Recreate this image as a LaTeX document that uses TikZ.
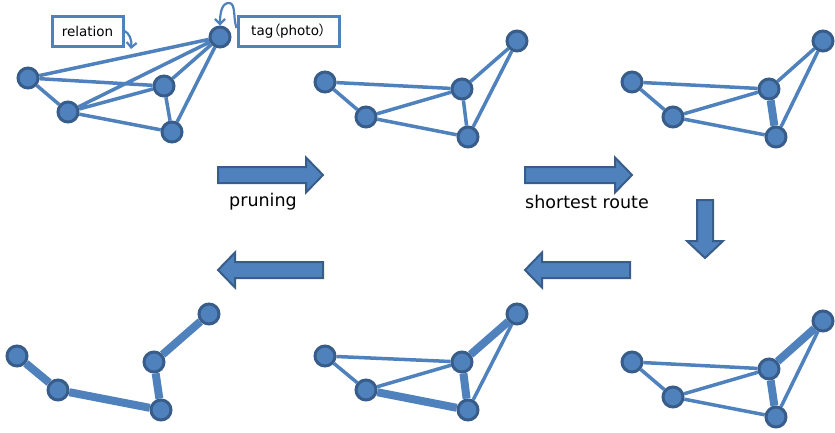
\documentclass[tikz,border=0pt]{standalone}
\usepackage{fontspec}
\setmainfont{DejaVu Sans}
\newfontfamily\jpfont[RawFeature=+palt]{Noto Sans CJK JP}
\usetikzlibrary{arrows.meta}
\definecolor{nodefill}{HTML}{4F81BD}
\definecolor{nodeline}{HTML}{385D8A}
\pgfdeclarelayer{edges}
\pgfsetlayers{edges,main}
\tikzset{
  gnode/.style={circle, fill=nodefill, draw=nodeline, line width=3pt,
    minimum size=20pt, inner sep=0pt},
  thinedge/.style={draw=nodefill, line width=3.5pt},
  thickedge/.style={draw=nodefill, line width=8pt},
  labelbox/.style={draw=nodefill, line width=3pt, fill=white, inner sep=0pt,
    minimum height=30pt, font=\fontsize{13.5}{15}\selectfont},
  bigarrow/.style={fill=nodefill, draw=nodeline, line width=2pt, line join=miter},
  callout/.style={draw=nodefill, line width=2.2pt, -{Straight Barb[length=5pt,width=10pt]}},
  caption/.style={font=\fontsize{17.5}{20}\selectfont, inner sep=0pt}
}
\begin{document}
\begin{tikzpicture}[x=1pt,y=-1pt]
\useasboundingbox (0,0) rectangle (835,432);

% ---------- graph 1: full tag graph ----------
\node[gnode] (p1) at (28,78) {};
\node[gnode] (q1) at (68,112) {};
\node[gnode] (r1) at (164,86) {};
\node[gnode] (s1) at (172,132) {};
\node[gnode] (t1) at (220,37) {};
\begin{pgfonlayer}{edges}
  \draw[thinedge] (p1) -- (t1) (p1) -- (r1) (p1) -- (q1) (q1) -- (t1)
    (q1) -- (r1) (q1) -- (s1) (r1) -- (t1) (r1) -- (s1) (s1) -- (t1);
\end{pgfonlayer}

% labels with callouts
\node[labelbox, minimum width=71pt] (rel) at (87.5,31) {relation};
\node[labelbox, minimum width=101pt] (tag) at (288.5,31) {tag{\jpfont （}photo{\jpfont ）}};
\coordinate (relTip) at (131,49);
\draw[callout] (rel.east) .. controls (129,33) and (132,39) .. (relTip);
\draw[callout] ([yshift=3pt]tag.west) .. controls (233,18) and (236,3) .. (229,3)
  .. controls (222,3) and (220,12) .. (t1.north);

% ---------- graph 2: pruned ----------
\node[gnode] (p2) at (325,82) {};
\node[gnode] (q2) at (366,117) {};
\node[gnode] (r2) at (462,89) {};
\node[gnode] (s2) at (468,137) {};
\node[gnode] (t2) at (517,41) {};
\begin{pgfonlayer}{edges}
  \draw[thinedge] (p2) -- (r2) (p2) -- (q2) (q2) -- (r2) (q2) -- (s2)
    (r2) -- (s2) (r2) -- (t2) (s2) -- (t2);
\end{pgfonlayer}

% ---------- graph 3 ----------
\node[gnode] (p3) at (632,82) {};
\node[gnode] (q3) at (673,117) {};
\node[gnode] (r3) at (769,89) {};
\node[gnode] (s3) at (776,137) {};
\node[gnode] (t3) at (823,41) {};
\begin{pgfonlayer}{edges}
  \draw[thinedge] (p3) -- (r3) (p3) -- (q3) (q3) -- (r3) (q3) -- (s3)
    (r3) -- (t3) (s3) -- (t3);
  \draw[thickedge] (r3) -- (s3);
\end{pgfonlayer}

% ---------- graph 4 ----------
\node[gnode] (p4) at (632,362) {};
\node[gnode] (q4) at (673,397) {};
\node[gnode] (r4) at (769,369) {};
\node[gnode] (s4) at (776,417) {};
\node[gnode] (t4) at (823,321) {};
\begin{pgfonlayer}{edges}
  \draw[thinedge] (p4) -- (r4) (p4) -- (q4) (q4) -- (r4) (q4) -- (s4)
    (s4) -- (t4);
  \draw[thickedge] (r4) -- (s4) (r4) -- (t4);
\end{pgfonlayer}

% ---------- graph 5 ----------
\node[gnode] (p5) at (325,356) {};
\node[gnode] (q5) at (366,390) {};
\node[gnode] (r5) at (462,362) {};
\node[gnode] (s5) at (468,410) {};
\node[gnode] (t5) at (517,314) {};
\begin{pgfonlayer}{edges}
  \draw[thinedge] (p5) -- (r5) (p5) -- (q5) (q5) -- (r5) (s5) -- (t5);
  \draw[thickedge] (q5) -- (s5) (r5) -- (s5) (r5) -- (t5);
\end{pgfonlayer}

% ---------- graph 6: resulting tree ----------
\node[gnode] (p6) at (17,356) {};
\node[gnode] (q6) at (58,390) {};
\node[gnode] (r6) at (154,362) {};
\node[gnode] (s6) at (161,410) {};
\node[gnode] (t6) at (209,314) {};
\begin{pgfonlayer}{edges}
  \draw[thickedge] (p6) -- (q6) (q6) -- (s6) (s6) -- (r6) (r6) -- (t6);
\end{pgfonlayer}

% ---------- block arrows between stages ----------
\draw[bigarrow] (218,167) -- (306,167) -- (306,157.5) -- (323,175)
  -- (306,192.5) -- (306,183) -- (218,183) -- cycle;
\draw[bigarrow] (525,167) -- (615,167) -- (615,157.5) -- (632,175)
  -- (615,192.5) -- (615,183) -- (525,183) -- cycle;
\draw[bigarrow] (697,200) -- (697,241) -- (687,241) -- (705,258)
  -- (723,241) -- (713,241) -- (713,200) -- cycle;
\draw[bigarrow] (630,262) -- (542,262) -- (542,252.5) -- (525,270)
  -- (542,287.5) -- (542,278) -- (630,278) -- cycle;
\draw[bigarrow] (323,262) -- (235,262) -- (235,252.5) -- (218,270)
  -- (235,287.5) -- (235,278) -- (323,278) -- cycle;

\node[caption] (prune) at (263,202) {pruning};
\node[caption] (route) at (587,202) {shortest route};
\end{tikzpicture}
\end{document}
